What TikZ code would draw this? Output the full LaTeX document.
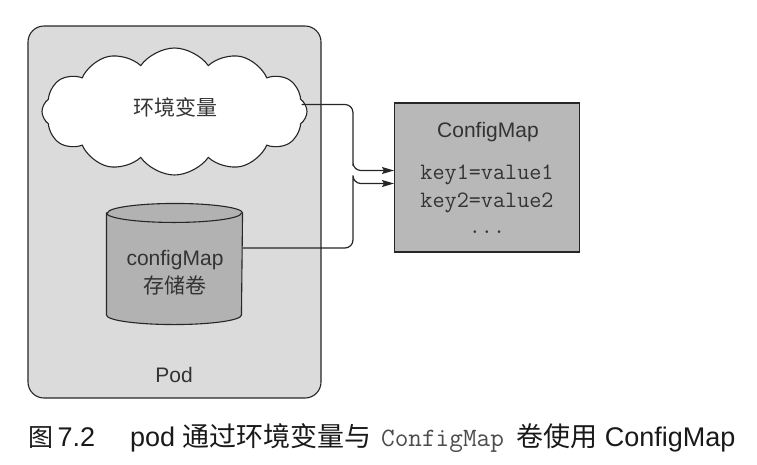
\documentclass[tikz,border=0pt]{standalone}
\usepackage{fontspec}
\setmainfont{Liberation Sans}
\newfontfamily\cjk{Noto Sans CJK SC}
\usepackage{tikz}
\usetikzlibrary{shapes.geometric, shapes.symbols, arrows.meta, positioning}

\begin{document}
\begin{tikzpicture}[x=1pt, y=-1pt, >={Stealth[length=12pt, width=7pt, inset=2pt]}, line width=1.1pt,
	txt/.style={text=black!80, font=\fontsize{21}{28}\selectfont},
	keytxt/.style={text=black!80, font=\ttfamily\fontsize{23.5}{28}\selectfont, anchor=base},
	podbox/.style={rectangle, rounded corners=16pt, draw=black!85, fill=black!14, minimum width=293pt, minimum height=372pt},
	envcloud/.style={cloud, cloud puffs=12, cloud puff arc=110, aspect=2.1, draw=black!85, fill=white, minimum width=265pt, minimum height=127pt},
	volume/.style={rectangle, minimum width=135pt, minimum height=120pt},
	volline/.style={draw=black!85, fill=black!30},
	mapbox/.style={rectangle, draw=black!85, fill=black!28, minimum width=185pt, minimum height=149pt},
	conn/.style={->, draw=black!85, line width=1.2pt, rounded corners=8pt}]
	\useasboundingbox (0,0) rectangle (757,464);

	\node[podbox] (pod) at (174.5,212) {};
	\node[txt] (podname) at (174,375) {Pod};
	\node[envcloud] (env) at (174.5,111.5) {};
	\node[txt] (envname) at (175,107) {\cjk 环境变量};

	% cylinder
	\node[volume] (vol) at (174.5,264) {};
	\path[volline] ([yshift=-9.5pt]vol.north west) -- ([yshift=9.5pt]vol.south west)
		arc[start angle=180, end angle=360, x radius=67.5pt, y radius=9.5pt]
		-- ([yshift=-9.5pt]vol.north east)
		arc[start angle=0, end angle=180, x radius=67.5pt, y radius=9.5pt] -- cycle;
	\draw[draw=black!85] ([yshift=-9.5pt]vol.north west) arc[start angle=180, end angle=360, x radius=67.5pt, y radius=9.5pt];
	\node[txt, align=center] (volname) at (175,273) {configMap\\{\cjk 存储卷}};

	\node[mapbox] (cm) at (487,177.5) {};
	\node[txt, anchor=base] (cmname) at (488,137) {ConfigMap};
	\node[keytxt] (key1) at (487,179) {key1=value1};
	\node[keytxt] (key2) at (487,207) {key2=value2};
	\node[keytxt] (more) at (487,233) {...};

	\draw[conn] ([xshift=-6pt,yshift=7pt]env.east) -| ([xshift=-41pt,yshift=7pt]cm.west) |- ([yshift=7pt]cm.west);
	\draw[conn] ([yshift=16pt]vol.east) -| ([xshift=-41pt,yshift=-6pt]cm.west) |- ([yshift=-6pt]cm.west);

	% caption
	\node[anchor=base west, text=black!90, font=\fontsize{27}{30}\selectfont, inner sep=0pt] (cap) at (28,446)
		{{\cjk\fontsize{25}{30}\selectfont 图}\hspace{4pt}7.2\hspace{35pt}pod\hspace{7pt}{\cjk 通过环境变量与}\hspace{10pt}{\ttfamily\color{black!70}\fontsize{26.5}{30}\selectfont ConfigMap}\hspace{13pt}{\cjk 卷使用}\hspace{7pt}ConfigMap};
\end{tikzpicture}
\end{document}
